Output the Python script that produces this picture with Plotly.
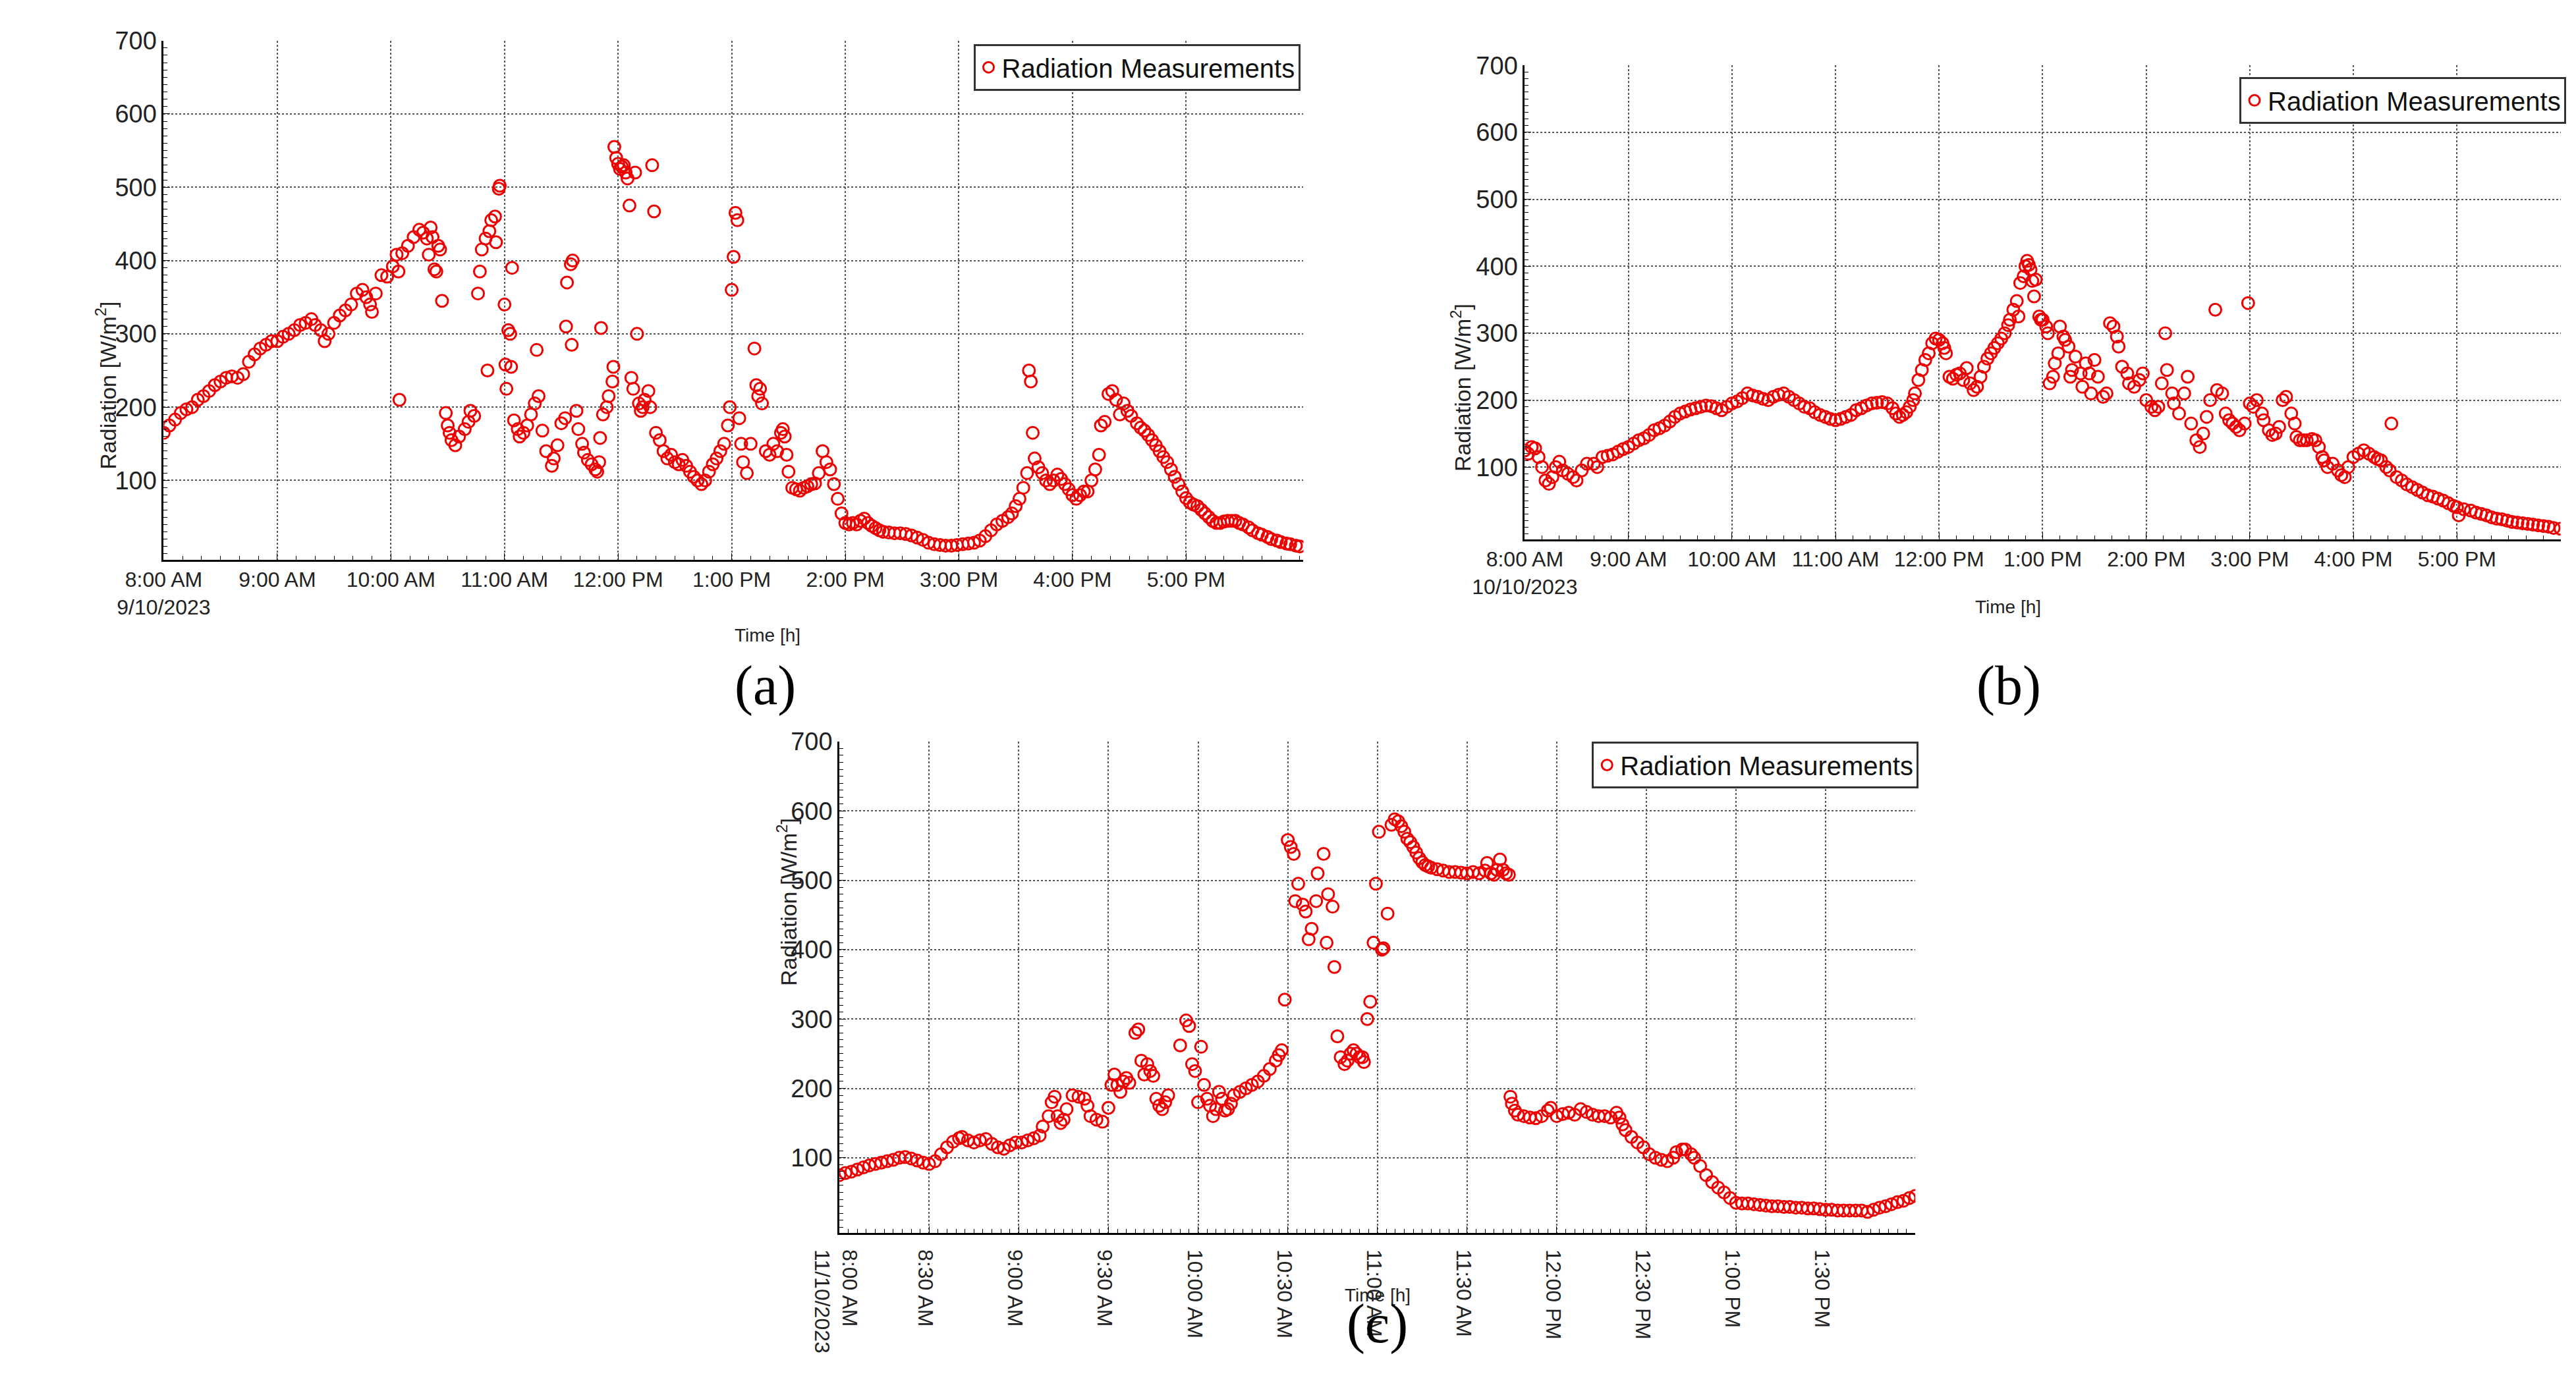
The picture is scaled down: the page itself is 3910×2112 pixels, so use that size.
import pandas as pd
import plotly.graph_objects as go

# Radiation readings: (minutes after 8:00 AM, W/m2)
day_a = "2023-10-09"
points_a = [
    (0, 165), (3, 175), (6, 183), (9, 192), (12, 197), (15, 200), (18, 210), (21, 215), (24, 222), (27, 230),
    (30, 235), (33, 240), (36, 242), (39, 240), (42, 245), (45, 262), (48, 272), (51, 280), (54, 285), (57, 290),
    (60, 290), (63, 296), (66, 300), (69, 305), (72, 312), (75, 315), (78, 320), (80, 312), (83, 305), (85, 290),
    (87, 300), (90, 315), (93, 325), (96, 332), (99, 340), (102, 355), (105, 360), (107, 350), (109, 340), (110, 330),
    (112, 355), (115, 380), (118, 378), (121, 392), (123, 408), (124, 385), (124.5, 210), (126, 410), (129, 420),
    (132, 432), (135, 442), (137, 438), (139, 430), (140, 408), (141, 445), (142, 432), (143, 388), (144, 385),
    (145, 420), (146, 415), (147, 345),
    (149, 192), (150, 175), (151, 165), (152, 155), (154, 148), (156, 160), (159, 170), (161, 180), (162, 195), (164, 188),
    (166, 355), (167, 385), (168, 415), (170, 430), (171, 250), (172, 440), (173, 455), (175, 460), (175.5, 425),
    (177, 498), (177.5, 502), (180, 340), (180.5, 258), (181, 225), (182, 305), (183, 300), (183.5, 255), (184, 390),
    (185, 182), (187, 170), (188, 160), (190, 165), (192, 175), (194, 190), (197, 278), (196, 205), (198, 215),
    (200, 168), (202, 140), (205, 120), (206, 130), (208, 148), (210, 178), (212, 185), (213, 370), (215, 395),
    (212.5, 310), (215.5, 285), (216, 400), (218, 195), (219, 170), (221, 150), (222, 138), (224, 128), (226, 122),
    (228, 115), (229, 112), (230, 125), (230.5, 158), (231, 308), (232, 190), (234, 200), (235, 215), (237, 235),
    (237.5, 255), (238, 555), (239, 540), (240, 532), (241, 525), (242, 528), (243, 530), (244, 520), (245, 512),
    (246, 475), (247, 240), (248, 225), (249, 520), (250, 300), (251, 205), (252, 195), (253, 200), (254, 210),
    (256, 222), (257, 200), (258, 530), (259, 467), (260, 165), (262, 155), (264, 140), (266, 130), (268, 135),
    (270, 125), (272, 122), (274, 128), (276, 120), (278, 112), (280, 105), (282, 100), (284, 95), (286, 100),
    (288, 112), (290, 122), (292, 130), (294, 140), (296, 150), (298, 175), (299, 200), (300, 360), (301, 405),
    (302, 465), (303, 455), (304, 185), (305, 150), (306, 125), (308, 110), (310, 150), (312, 280), (313, 230),
    (314, 215), (315, 225), (316, 205), (318, 140), (320, 135), (322, 150), (324, 140), (326, 165), (327, 170),
    (328, 160), (329, 135), (330, 112), (332, 90), (334, 88), (336, 86), (338, 90), (340, 92), (342, 95), (344, 96),
    (346, 110), (348, 140), (350, 125), (352, 115), (354, 95), (356, 75), (358, 55), (360, 42), (362, 40), (364, 42),
    (366, 40), (368, 45), (370, 48), (372, 42), (374, 38), (376, 35), (378, 32), (380, 30), (383, 29), (386, 28),
    (389, 28), (392, 27), (395, 25), (398, 22), (401, 19), (404, 15), (407, 13), (410, 12), (413, 11), (416, 11),
    (419, 12), (422, 13), (425, 14), (428, 15), (431, 18), (434, 24), (437, 32), (440, 40), (443, 45), (446, 50),
    (448, 55), (450, 65), (452, 75), (454, 90), (456, 110), (457, 250), (458, 235), (459, 165), (460, 130), (462, 118),
    (464, 110), (466, 100), (468, 95), (470, 100), (472, 108), (474, 102), (476, 95), (478, 88), (480, 80), (482, 75),
    (484, 80), (486, 85), (488, 85), (490, 100), (492, 115), (494, 135), (495, 175), (497, 180), (499, 218),
    (501, 222), (503, 210), (505, 190), (507, 205), (509, 195), (511, 188), (514, 178), (516, 172), (518, 168),
    (520, 162), (522, 155), (524, 148), (526, 140), (528, 132), (530, 125), (532, 115), (534, 105), (536, 95),
    (538, 85), (540, 76), (542, 70), (544, 67), (546, 65), (548, 60), (550, 55), (552, 50), (554, 45), (556, 42),
    (558, 42), (560, 44), (562, 45), (564, 45), (566, 45), (568, 42), (570, 40), (573, 36), (575, 32), (578, 28),
    (580, 26), (583, 23), (585, 20), (588, 18), (590, 16), (593, 14), (595, 13), (598, 11), (600, 10),
]

day_b = "2023-10-10"
points_b = [
    (0, 125), (2, 120), (4, 130), (6, 128), (8, 115), (10, 100), (12, 80), (14, 75), (16, 85), (18, 100), (20, 108),
    (22, 95), (25, 90), (28, 85), (30, 80), (33, 95), (36, 105), (40, 105), (42, 100), (45, 115), (48, 117), (51, 119),
    (54, 123), (57, 127), (60, 130), (63, 135), (66, 140), (69, 143), (72, 148), (75, 155), (78, 158), (81, 162),
    (84, 168), (87, 175), (90, 180), (93, 183), (96, 186), (99, 188), (102, 190), (105, 192), (108, 191), (111, 188),
    (114, 185), (117, 190), (120, 195), (123, 198), (126, 203), (129, 210), (132, 207), (135, 205), (138, 202),
    (141, 200), (144, 205), (147, 208), (150, 210), (153, 205), (156, 200), (159, 195), (162, 190), (165, 188),
    (168, 182), (171, 178), (174, 175), (177, 172), (180, 170), (183, 172), (186, 175), (189, 178), (192, 185),
    (195, 188), (198, 192), (201, 195), (204, 196), (207, 197), (210, 195), (213, 188), (215, 180), (217, 175),
    (219, 178), (221, 182), (223, 190), (225, 200), (226, 210), (228, 230), (230, 245), (232, 260), (234, 270),
    (236, 285), (238, 292), (240, 290), (242, 285), (243, 278), (244, 270), (246, 235), (248, 232), (250, 238),
    (252, 240), (254, 230), (256, 248), (258, 225), (260, 215), (262, 220), (264, 235), (266, 250), (268, 262),
    (270, 270), (272, 278), (274, 285), (276, 292), (278, 300), (280, 312), (281, 320), (283, 335), (285, 348),
    (286, 325), (287, 375), (289, 385), (290, 400), (291, 408), (292, 402), (293, 395), (294, 378), (295, 355),
    (296, 380), (298, 325), (299, 320), (300, 320), (302, 310), (303, 300), (304, 225), (306, 235), (307, 255),
    (309, 270), (310, 310), (312, 295), (313, 290), (315, 280), (316, 235), (317, 245), (319, 265), (322, 240),
    (323, 220), (325, 255), (327, 240), (328, 210), (330, 260), (332, 235), (335, 205), (337, 210), (339, 315),
    (341, 310), (343, 295), (344, 280), (346, 250), (349, 240), (350, 225), (353, 220), (356, 230), (358, 240),
    (360, 200), (363, 190), (365, 185), (367, 190), (369, 225), (371, 300), (372, 245), (375, 210), (376, 195),
    (379, 180), (382, 210), (384, 235), (386, 165), (389, 140), (391, 130), (393, 150), (395, 175), (397, 200),
    (400, 335), (401, 215), (404, 210), (406, 180), (408, 170), (410, 165), (412, 160), (414, 155), (417, 165),
    (419, 345), (420, 195), (422, 190), (424, 200), (427, 180), (428, 170), (431, 155), (433, 148), (435, 150),
    (437, 160), (439, 200), (441, 205), (444, 180), (446, 165), (447, 145), (449, 140), (451, 140), (453, 140),
    (456, 142), (458, 140), (460, 130), (462, 115), (463, 110), (465, 100), (468, 105), (471, 95), (473, 88),
    (475, 85), (477, 100), (480, 115), (483, 120), (486, 125), (489, 120), (492, 115), (494, 112), (496, 110),
    (499, 100), (501, 95), (502, 165), (505, 85), (508, 80), (511, 74), (514, 70), (517, 66), (520, 62), (523, 58),
    (526, 56), (529, 53), (532, 50), (535, 46), (538, 42), (540, 40), (541, 28), (544, 37), (548, 35), (551, 32),
    (554, 30), (557, 28), (560, 25), (563, 23), (566, 22), (569, 20), (572, 18), (575, 17), (578, 16), (581, 15),
    (584, 14), (587, 13), (590, 12), (593, 11), (596, 9), (600, 8),
]

day_c = "2023-10-11"
points_c = [
    (0, 75), (2, 78), (4, 80), (6, 83), (8, 86), (10, 89), (12, 91), (14, 93), (16, 95), (18, 97), (20, 100), (22, 101),
    (24, 99), (26, 96), (28, 93), (30, 91), (32, 95), (34, 105), (36, 115), (38, 123), (40, 128), (41, 130), (43, 125),
    (45, 122), (47, 125), (49, 127), (51, 120), (53, 115), (55, 113), (57, 118), (59, 122), (61, 122), (63, 125),
    (65, 128), (67, 132), (68, 145), (70, 160), (71, 180), (72, 188), (73, 160), (74, 150), (75, 155), (76, 170),
    (78, 190), (80, 188), (82, 185), (83, 175), (84, 160), (86, 155), (88, 152), (90, 172), (91, 205), (92, 220),
    (93, 205), (94, 195), (95, 210), (96, 215), (97, 208), (99, 280), (100, 285), (101, 240), (102, 220), (103, 235),
    (104, 225), (105, 218), (106, 185), (107, 175), (108, 170), (109, 180), (110, 190), (114, 262), (116, 298),
    (117, 290), (118, 235), (119, 225), (121, 260), (120, 180), (122, 205), (123, 185), (124, 175), (125, 160),
    (126, 170), (127, 195), (128, 185), (129, 168), (130, 170), (131, 178), (132, 190), (134, 195), (136, 200),
    (138, 205), (140, 210), (142, 218), (144, 228), (146, 240), (147, 248), (148, 255), (149, 328), (150, 558),
    (151, 548), (152, 538), (152.5, 470), (153.5, 495), (155, 465), (156, 455), (157, 415), (158, 430), (159.5, 470),
    (160, 510), (162, 538), (163, 410), (163.5, 480), (165, 462), (165.6, 375), (166.6, 275), (167.7, 245),
    (169, 235), (170, 240), (171, 250), (172, 255), (173, 250), (174, 245), (175, 245), (175.5, 238), (176.6, 300),
    (177.6, 325), (178.7, 410), (179.5, 495), (180.5, 570), (181.5, 400), (182, 402), (183.4, 452), (184.7, 580),
    (185.8, 588), (187, 585), (188, 578), (189, 570), (190, 560), (191, 555), (192, 548), (193, 540), (194, 532),
    (195, 526), (196, 522), (197, 520), (198, 518), (200, 516), (202, 514), (204, 512), (206, 512), (208, 511),
    (210, 510), (212, 512), (214, 510), (216, 514), (216.7, 525), (218, 510), (219, 508), (220, 515), (221, 530),
    (222, 515), (223, 510), (224, 508),
    (224.5, 188), (225, 178), (226, 168), (227, 162), (229, 160), (231, 158), (233, 157), (235, 160), (237, 168),
    (238, 172), (240, 160), (242, 163), (244, 165), (246, 162), (248, 170), (250, 166), (252, 162), (254, 160),
    (256, 160), (258, 158), (260, 165), (261, 158), (262, 148), (263, 140), (265, 130), (267, 122), (269, 115),
    (271, 105), (273, 100), (275, 97), (277, 95), (279, 100), (280, 108), (282, 112), (283, 112), (285, 105),
    (286, 100), (288, 88), (290, 75), (292, 65), (294, 57), (296, 50), (298, 42), (300, 35), (302, 34), (304, 34),
    (306, 33), (308, 32), (310, 31), (312, 30), (314, 30), (316, 29), (318, 29), (320, 28), (322, 28), (324, 27),
    (326, 27), (328, 26), (330, 25), (332, 25), (334, 24), (336, 24), (338, 24), (340, 24), (342, 24), (344, 22),
    (346, 25), (348, 28), (350, 30), (352, 33), (354, 36), (356, 38), (358, 42), (360, 45),
]

panels = [
    (day_a, points_a, 602, 3600000, "(a)"),
    (day_b, points_b, 600, 3600000, "(b)"),
    (day_c, points_c, 360, 1800000, "(c)"),
]
x_domains = [[0.0419, 0.4936], [0.5813, 0.9918], [0.3097, 0.7361]]
y_domains = [[0.6075, 0.9844], [0.6222, 0.9664], [0.1188, 0.4754]]
legend_pos = [(0.4923, 0.982), (0.994, 0.958), (0.7374, 0.4754)]
date_labels = ["9/10/2023", "10/10/2023", "11/10/2023"]
# paper positions of the texts below each panel
time_title_y = [0.5526, 0.573, 0.065]
panel_label_y = [0.516, 0.516, 0.029]
ytitle_x = [0.0128, 0.556, 0.2826]

font_narrow = "Liberation Sans Narrow, Arial Narrow, Liberation Sans"
fig = go.Figure()
for i, (day, pts, span, step, label) in enumerate(panels):
    n = "" if i == 0 else str(i + 1)
    base = pd.Timestamp(day + " 08:00")
    times = [base + pd.Timedelta(minutes=m) for m, _ in pts]
    vals = [v for _, v in pts]
    fig.add_trace(go.Scatter(
        x=times, y=vals, mode="markers", name="Radiation Measurements",
        marker=dict(symbol="circle-open", size=18, color="#ee0000", line=dict(width=3)),
        xaxis="x" + n, yaxis="y" + n, legend="legend" + n,
    ))
    end = base + pd.Timedelta(minutes=span)
    tickvals = list(pd.date_range(base, end, freq=pd.Timedelta(milliseconds=step)))
    if tickvals[-1] >= base + pd.Timedelta(minutes=span - 5):
        tickvals = tickvals[:-1]
    ticktext = [t.strftime("%-I:%M %p") for t in tickvals]
    ticktext[0] = ticktext[0] + "<br>" + date_labels[i]
    axis_common = dict(showline=True, linecolor="black", linewidth=3, mirror=False,
                       showgrid=True, gridcolor="#555", griddash="dot", gridwidth=1.5,
                       ticks="inside", ticklen=10, tickcolor="black", zeroline=False)
    fig.update_layout(**{
        "xaxis" + n: dict(axis_common, domain=x_domains[i], anchor="y" + n, type="date",
                          range=[base, end], tickvals=tickvals, ticktext=ticktext,
                          tickfont=dict(family=font_narrow, size=32, color="#222"),
                          minor=dict(ticks="inside", ticklen=6, dtick=step / 6 if i < 2 else step / 10,
                                     tickcolor="black", showgrid=False)),
        "yaxis" + n: dict(axis_common, domain=y_domains[i], anchor="x" + n,
                          range=[-8, 700], tickvals=[100, 200, 300, 400, 500, 600, 700],
                          tickfont=dict(family=font_narrow, size=38, color="#222"),
                          minor=dict(ticks="inside", ticklen=6, dtick=10, tickcolor="black", showgrid=False)),
        "legend" + n: dict(x=legend_pos[i][0], y=legend_pos[i][1], xanchor="right", yanchor="top",
                           xref="paper", yref="paper", bgcolor="white", bordercolor="#333", borderwidth=3,
                           font=dict(family="Liberation Sans", size=40, color="#111")),
    })
    xm = (x_domains[i][0] + x_domains[i][1]) / 2
    fig.add_annotation(text="Time [h]", x=xm, y=time_title_y[i], xref="paper", yref="paper",
                       showarrow=False, font=dict(family=font_narrow, size=28, color="#222"))
    fig.add_annotation(text="Radiation [W/m<sup>2</sup>]", textangle=-90,
                       x=ytitle_x[i], y=(y_domains[i][0] + y_domains[i][1]) / 2,
                       xref="paper", yref="paper", showarrow=False,
                       font=dict(family="Liberation Sans", size=34, color="#222"))
    fig.add_annotation(text=label, x=xm, y=panel_label_y[i], xref="paper", yref="paper",
                       showarrow=False, font=dict(family="Liberation Serif", size=84, color="black"))

fig.update_layout(width=3910, height=2112, margin=dict(l=0, r=0, t=0, b=0),
                  plot_bgcolor="white", paper_bgcolor="white", showlegend=True)
fig.write_html("out.html")
